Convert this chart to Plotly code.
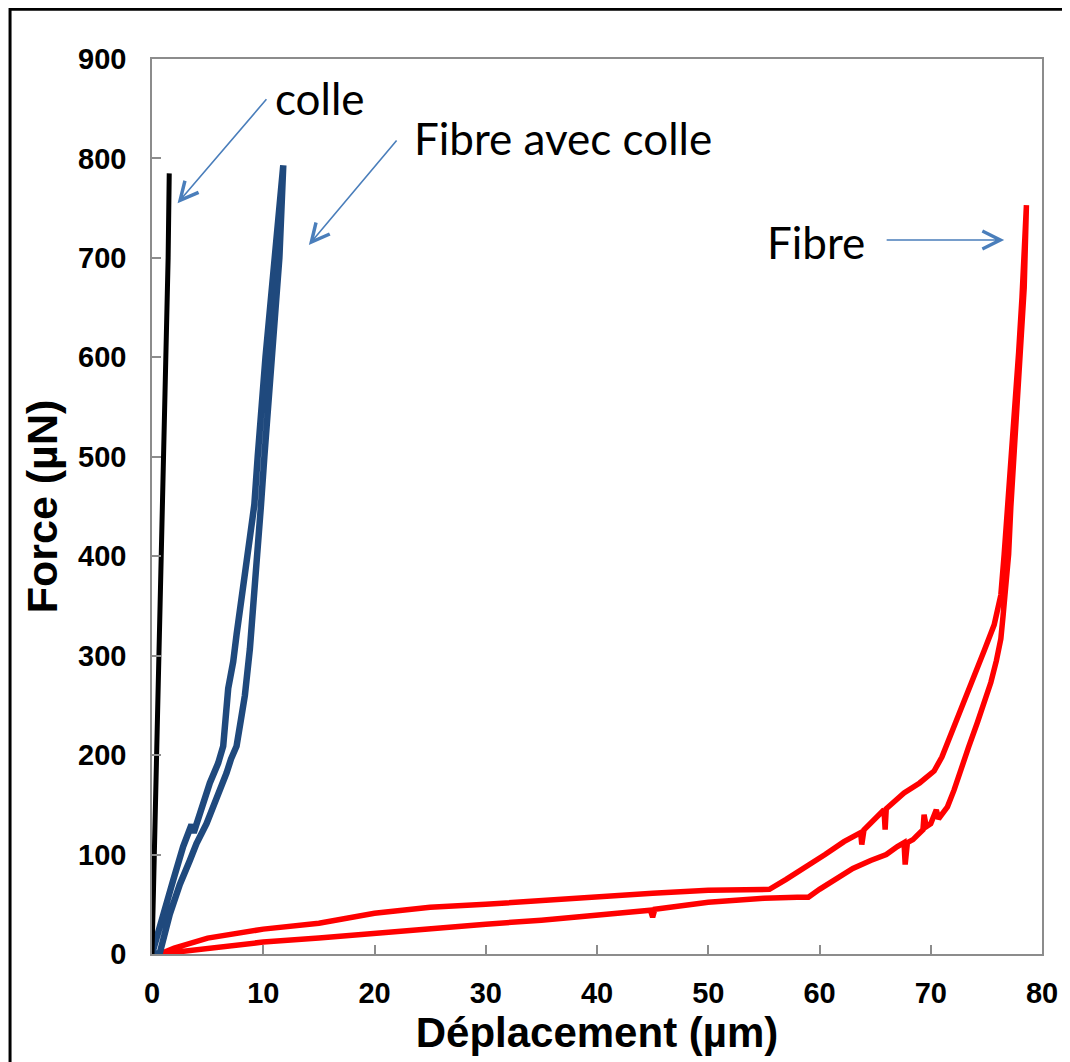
import plotly.graph_objects as go

# ---- data ----
colle_x = [0, 0.1, 0.25, 0.45, 0.65, 0.85, 1.0, 1.15, 1.3, 1.45, 1.55]
colle_y = [0, 50, 115, 200, 290, 380, 452, 540, 614, 700, 785]

# Fibre avec colle: loading branch then unloading branch
fac_x = [0, 0.7, 1.6, 2.5, 3.4, 4.0, 4.9, 5.8, 6.7, 7.1, 7.6, 8.0, 8.35, 8.8, 9.2, 9.5, 9.8, 10.1, 10.8, 11.45, 11.8,
         11.8, 11.0, 10.2, 9.5, 9.2, 8.8, 8.35, 8.0, 7.6, 7.3, 6.85, 6.4, 5.95, 5.2, 4.45, 4.0, 3.75, 3.55, 2.8, 1.9, 1.0, 0]
fac_y = [0, 1, 40, 70, 94, 111, 131, 155, 182, 196, 209, 236, 260, 307, 358, 402, 452, 500, 600, 700, 793,
         793, 700, 600, 500, 452, 419, 385, 351, 321, 294, 267, 209, 192, 172, 148, 131, 122, 130, 108, 74, 36.5, 0]

# Fibre: loading (lower/inner) branch then unloading (upper/outer) branch
fibre_x = [0.7, 3, 5, 8, 10, 15, 20, 25, 30, 35, 40, 44.8, 45.0, 45.2, 50, 55, 58, 59, 60, 61.6, 63, 64.6, 66, 67, 67.6, 67.7,
           67.9, 68.4, 69.3, 69.4, 69.6, 70, 70.5, 70.7, 71.5, 72.1, 72.7, 73.4, 74.2, 74.8, 75.4, 75.9, 76.3, 76.5,
           76.7, 77.0, 77.2, 77.5, 77.8, 78.1, 78.4, 78.6,
           78.5, 78.2, 77.9, 77.6, 77.3, 76.9, 76.6, 76.3, 75.7, 74.8, 73.9, 72.8, 71.8, 71.0, 70.3, 69, 67.6, 66.0,
           65.9, 65.8, 64.0, 63.8, 63.7, 62.2, 60.5, 59, 57, 55.5, 50, 45, 40, 35, 30, 25, 20, 15, 10, 5, 2, 0.7]
fibre_y = [0, 3, 6, 9, 12, 16, 21, 25, 30, 34, 39, 44, 37, 45, 52, 56, 57, 57, 65, 77, 86, 94, 100, 108, 112, 90,
           112, 115, 125, 140, 128, 131, 145, 136, 148, 165, 186, 208, 233, 253, 273, 295, 317, 340,
           368, 402, 450, 503, 555, 605, 670, 753,
           720, 660, 605, 555, 503, 450, 402, 361, 331, 305, 280, 248, 219, 198, 184, 172, 162, 146,
           125, 145, 125, 110, 122, 113, 100, 89, 75, 65, 64, 61, 57, 53, 50, 47, 41, 31, 25, 16, 6, 0]

x_ticks = [0, 10, 20, 30, 40, 50, 60, 70, 80]
y_ticks = [0, 100, 200, 300, 400, 500, 600, 700, 800, 900]

fig = go.Figure()
fig.add_trace(go.Scatter(x=fibre_x, y=fibre_y, mode="lines",
                         line=dict(color="#ff0000", width=5.5), showlegend=False))
fig.add_trace(go.Scatter(x=fac_x, y=fac_y, mode="lines",
                         line=dict(color="#1f497d", width=6.5), showlegend=False))
fig.add_trace(go.Scatter(x=colle_x, y=colle_y, mode="lines",
                         line=dict(color="#000000", width=5), showlegend=False))

arrow_color = "#4a7ebb"
# arrows (head at x,y; tail at ax,ay)
arrows = [
    (2.3, 755, 10.4, 861),
    (14.1, 713, 22.1, 819.5),
    (76.6, 718, 65.9, 718),
]
for hx, hy, tx, ty in arrows:
    fig.add_annotation(x=hx, y=hy, ax=tx, ay=ty, xref="x", yref="y", axref="x", ayref="y",
                       showarrow=True, arrowhead=5, arrowsize=2.2, arrowwidth=1.6,
                       arrowcolor=arrow_color, text="")

labels = [("colle", 15.1, 861), ("Fibre avec colle", 36.9, 821), ("Fibre", 59.66, 716)]
for t, x, y in labels:
    fig.add_annotation(x=x, y=y, xref="x", yref="y", text=t, showarrow=False,
                       font=dict(family="Lato", size=44, color="black"))

# outer black frame
fig.add_shape(type="rect", xref="paper", yref="paper",
              x0=-0.1595, y0=-0.16, x1=1.06, y1=1.0555,
              line=dict(color="black", width=3), layer="above")

axis_common = dict(showgrid=False, zeroline=False, showline=True, linecolor="#8c8c8c", linewidth=1.5,
                   mirror=True, ticks="inside", ticklen=9, tickcolor="#8c8c8c", tickwidth=1.5,
                   tickfont=dict(family="Liberation Sans", size=29, color="black", weight="bold"))

fig.update_xaxes(range=[0, 80], tickvals=x_ticks, ticktext=[str(v) for v in x_ticks],
                 ticklabelstandoff=12,
                 title=dict(text="<b>Déplacement (µm)</b>", standoff=10,
                            font=dict(family="Liberation Sans", size=42, color="black")),
                 **axis_common)
fig.update_yaxes(range=[0, 900], tickvals=y_ticks, ticktext=[str(v) for v in y_ticks],
                 ticklabelstandoff=18,
                 title=dict(text="<b>Force (µN)</b>", standoff=7,
                            font=dict(family="Liberation Sans", size=43, color="black")),
                 **axis_common)

fig.update_layout(width=1062, height=1054, margin=dict(l=144, r=17, t=51, b=108),
                  plot_bgcolor="white", paper_bgcolor="white")

fig.write_html("out.html")
